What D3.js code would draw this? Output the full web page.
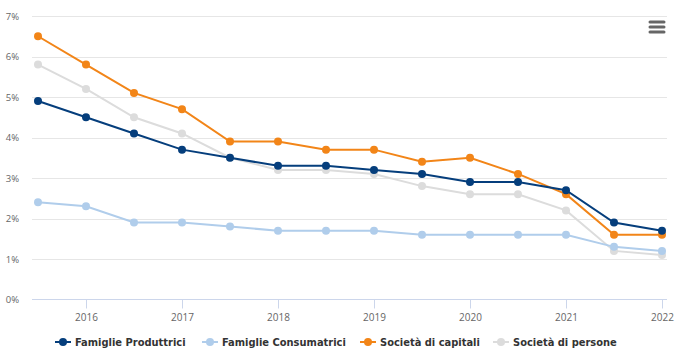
<!DOCTYPE html>
<html><head><meta charset="utf-8">
<script src="https://cdn.jsdelivr.net/npm/d3@7"></script>
<style>
body{margin:0;background:#fff;}
svg{display:block;}
</style></head>
<body><svg id="c" width="695" height="354"></svg>
<script>
const periods = [2015.5,2016,2016.5,2017,2017.5,2018,2018.5,2019,2019.5,2020,2020.5,2021,2021.5,2022];
const xTicks = [2016,2017,2018,2019,2020,2021,2022];
const yTicks = [0,1,2,3,4,5,6,7];
const seriesNames = ["Famiglie Produttrici","Famiglie Consumatrici","Società di capitali","Società di persone"];
const famiglieProduttrici = [4.9,4.5,4.1,3.7,3.5,3.3,3.3,3.2,3.1,2.9,2.9,2.7,1.9,1.7];
const famiglieConsumatrici = [2.4,2.3,1.9,1.9,1.8,1.7,1.7,1.7,1.6,1.6,1.6,1.6,1.3,1.2];
const societaCapitali = [6.5,5.8,5.1,4.7,3.9,3.9,3.7,3.7,3.4,3.5,3.1,2.6,1.6,1.6];
const societaPersone = [5.8,5.2,4.5,4.1,3.5,3.2,3.2,3.1,2.8,2.6,2.6,2.2,1.2,1.1];
const colors = ["#053e7c","#b0cdeb","#f28518","#dcdcdc"];

(function(){
const allSeries = [famiglieProduttrici,famiglieConsumatrici,societaCapitali,societaPersone];
const svg = d3.select("#c");
const pL=32, pR=667, pT=16, pB=299.5;
const x = d3.scaleLinear().domain([2015.5,2022]).range([38,662]);
const y = d3.scaleLinear().domain([0,7]).range([pB,pT]);
const font = "'Liberation Sans Narrow','DejaVu Sans Condensed','Open Sans',sans-serif";

svg.append("g").selectAll("line").data(yTicks.filter(d=>d>0)).join("line")
  .attr("x1",pL).attr("x2",pR)
  .attr("y1",d=>Math.round(y(d))+0.5).attr("y2",d=>Math.round(y(d))+0.5)
  .attr("stroke","#e6e6e6").attr("stroke-width",1);
svg.append("g").selectAll("text").data(yTicks).join("text")
  .attr("x",19).attr("y",d=>y(d)+3.5).attr("text-anchor","end")
  .attr("font-family","'Open Sans',sans-serif").attr("font-size",9.5).attr("fill","#666")
  .text(d=>d+"%");
const xa = d3.axisBottom(x).tickValues(xTicks).tickSize(9).tickFormat(d3.format("d"));
const gx = svg.append("g").attr("transform",`translate(0,${pB})`).call(xa);
gx.select(".domain").remove();
gx.selectAll(".tick line").attr("stroke","#ccd6eb");
gx.selectAll(".tick text").attr("font-family","'Open Sans',sans-serif").attr("font-size",10).attr("fill","#666").attr("dy","0.9em");
svg.append("line").attr("x1",pL).attr("x2",pR).attr("y1",pB).attr("y2",pB)
  .attr("stroke","#ccd6eb").attr("stroke-width",1);

const order = [3,1,2,0];
const line = d3.line().x((d,i)=>x(periods[i])).y(d=>y(d));
order.forEach(k=>{
  const g = svg.append("g");
  g.append("path").datum(allSeries[k]).attr("d",line).attr("fill","none")
    .attr("stroke",colors[k]).attr("stroke-width",2);
  g.selectAll("circle").data(allSeries[k]).join("circle")
    .attr("cx",(d,i)=>x(periods[i])).attr("cy",d=>y(d)).attr("r",4).attr("fill",colors[k]);
});

const legX = [55,202,360,493];
const lg = svg.append("g");
seriesNames.forEach((n,k)=>{
  const g = lg.append("g").attr("transform",`translate(${legX[k]},342)`);
  g.append("line").attr("x1",0).attr("x2",16).attr("y1",0).attr("y2",0).attr("stroke",colors[k]).attr("stroke-width",2);
  g.append("circle").attr("cx",8).attr("cy",0).attr("r",4).attr("fill",colors[k]);
  g.append("text").attr("x",20).attr("y",4).attr("font-family",font).attr("font-weight","bold")
    .attr("font-size",11).attr("fill","#333").text(n);
});

const mg = svg.append("g");
[22,27,32].forEach(yy=>mg.append("line").attr("x1",650).attr("x2",664).attr("y1",yy).attr("y2",yy)
  .attr("stroke","#666").attr("stroke-width",3).attr("stroke-linecap","round"));
})();
</script></body></html>
